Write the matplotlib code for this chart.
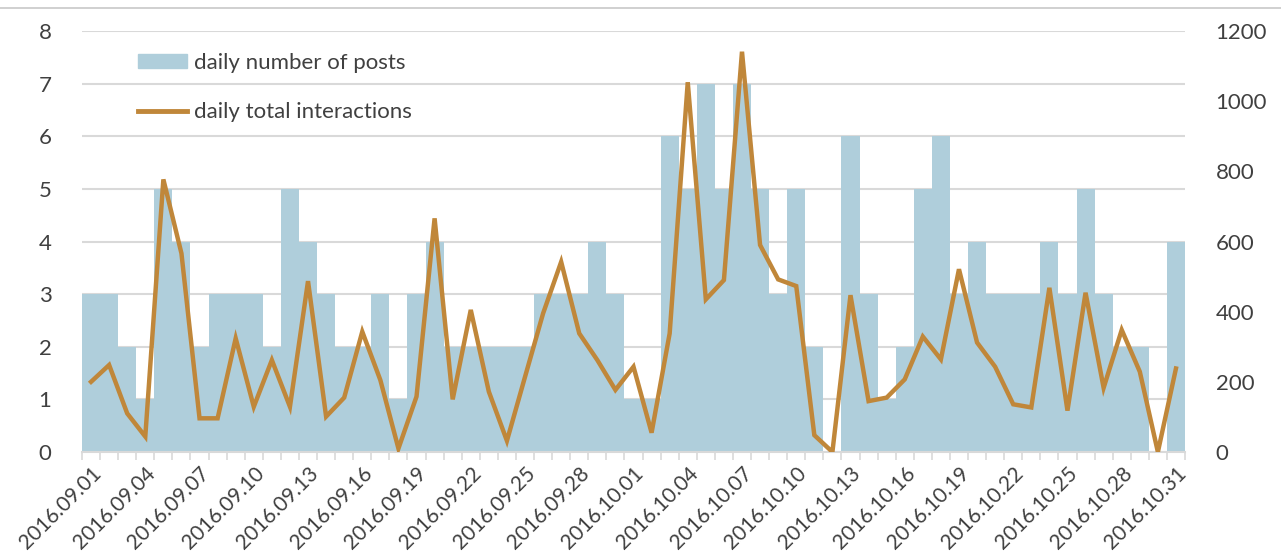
import numpy as np
import matplotlib.pyplot as plt
from matplotlib.lines import Line2D
from datetime import date, timedelta

# daily data, 2016.09.01 - 2016.10.31
days = [(date(2016, 9, 1) + timedelta(d)).strftime("%Y.%m.%d") for d in range(61)]
posts = [3, 3, 2, 1, 5, 4, 2, 3, 3, 3, 2, 5, 4, 3, 2, 2, 3, 1, 3, 4,
         2, 2, 2, 2, 2, 3, 3, 3, 4, 3, 1, 1, 6, 5, 7, 5, 7, 5, 3, 5,
         2, 0, 6, 3, 1, 2, 5, 6, 3, 4, 3, 3, 3, 4, 3, 5, 3, 2, 2, 0, 4]
interactions = [200, 248, 110, 44, 777, 566, 96, 96, 324, 129, 262, 129, 487, 101, 155, 343,
                205, 10, 158, 666, 150, 405, 172, 32, 214, 395, 542, 338, 262, 177, 243, 55,
                338, 1054, 435, 490, 1141, 590, 492, 473, 48, 0, 447, 145, 155, 207, 329, 264,
                521, 312, 243, 136, 127, 468, 118, 454, 183, 348, 229, 0, 238]

bar_color = "#afcedb"
line_color = "#c0873a"
text_color = "#404040"
plt.rcParams['font.family'] = ['Lato', 'DejaVu Sans']

fig = plt.figure(figsize=(12.81, 5.51), dpi=100)
ax = fig.add_axes([82/1281, 99/551, 1103/1281, 421/551])
x = np.arange(len(days))

ax.bar(x, posts, width=1.0, color=bar_color, label="daily number of posts")
ax.set_xlim(-0.5, len(days) - 0.5)
ax.set_ylim(0, 8)
ax.set_yticks(range(0, 9))
ax.set_axisbelow(True)
ax.grid(axis="y", color="#d9d9d9", lw=1.5)

ax.set_xticks(x[::3])
ax.set_xticklabels(days[::3], rotation=45, ha="right", rotation_mode="anchor", fontsize=15, color=text_color)
ax.set_xticks(np.arange(-0.5, len(days)), minor=True)
ax.tick_params(axis="x", which="major", length=0, pad=8)
ax.tick_params(axis="x", which="minor", length=6, color="#d9d9d9", width=1.2)
ax.tick_params(axis="y", length=0, labelsize=16, labelcolor=text_color, pad=22)
for s in ["top", "left", "right"]:
    ax.spines[s].set_visible(False)
ax.spines["bottom"].set_color("#d9d9d9")
ax.spines["bottom"].set_linewidth(1.5)

ax2 = ax.twinx()
ax2.plot(x, interactions, color=line_color, lw=3.2, solid_joinstyle="miter", label="daily total interactions")
ax2.set_ylim(0, 1200)
ax2.set_yticks(range(0, 1201, 200))
ax2.tick_params(axis="y", length=0, labelsize=16, labelcolor=text_color, pad=22)
for s in ["top", "left", "right", "bottom"]:
    ax2.spines[s].set_visible(False)

handles = [plt.Rectangle((0, 0), 1, 1, color=bar_color),
           Line2D([], [], color=line_color, lw=3.5)]
ax2.legend(handles, ["daily number of posts", "daily total interactions"], loc="upper left",
           bbox_to_anchor=(0.033, 0.995), frameon=False, fontsize=16, labelcolor=text_color,
           handlelength=2.2, handleheight=0.6, labelspacing=1.3, handletextpad=0.3)

fig.add_artist(Line2D([0, 1], [1 - 8/551, 1 - 8/551], color="#c8c8c8", lw=1.2))

fig.savefig("out.png", dpi=100)
